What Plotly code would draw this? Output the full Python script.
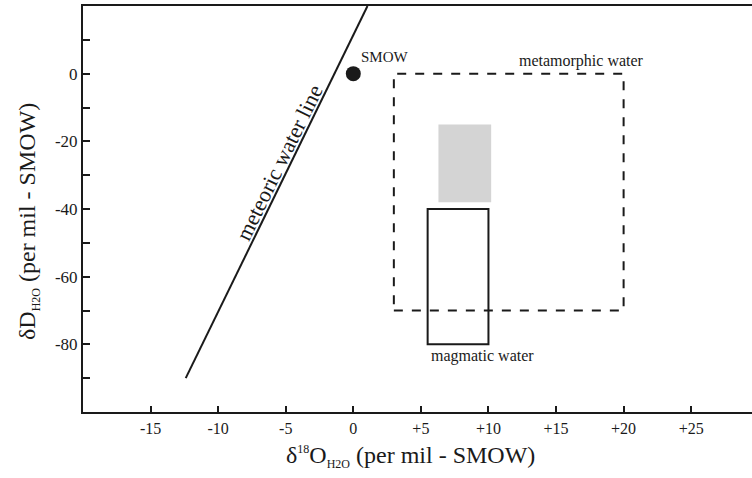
import plotly.graph_objects as go

# Data
x_tick_vals = [-15, -10, -5, 0, 5, 10, 15, 20, 25]
x_tick_text = ["-15", "-10", "-5", "0", "+5", "+10", "+15", "+20", "+25"]
y_tick_vals = [-90, -80, -70, -60, -50, -40, -30, -20, -10, 0, 10]
y_tick_text = ["", "-80", "", "-60", "", "-40", "", "-20", "", "0", ""]

meteoric_x = [-12.4, 1.05]
meteoric_y = [-90, 20]

smow_x = [0]
smow_y = [0]

metamorphic_box = dict(x0=3, x1=20, y0=-70, y1=0)
magmatic_box = dict(x0=5.5, x1=10, y0=-80, y1=-40)
gray_box = dict(x0=6.3, x1=10.2, y0=-38, y1=-15)

FONT = "Liberation Serif"
INK = "#1a1a1a"

fig = go.Figure()

fig.add_trace(go.Scatter(x=meteoric_x, y=meteoric_y, mode="lines",
                         line=dict(color=INK, width=2), hoverinfo="skip"))
fig.add_trace(go.Scatter(x=smow_x, y=smow_y, mode="markers",
                         marker=dict(color=INK, size=15), hoverinfo="skip"))

fig.add_shape(type="rect", **gray_box, fillcolor="#d4d4d4", line=dict(width=0), layer="below")
fig.add_shape(type="rect", **metamorphic_box, line=dict(color=INK, width=2, dash="dash"))
fig.add_shape(type="rect", **magmatic_box, line=dict(color=INK, width=2))

W, H = 752, 478
L, R, T, B = 83, 0, 6, 66
pw, ph = W - L - R, H - T - B

def px_x(p):
    return (p - L) / pw

def px_y(p):
    return 1 - (p - T) / ph

SUB = '<sub><span style="font-size:12px">H2O</span></sub>'
SUP = '<sup><span style="font-size:12px">18</span></sup>'

annotations = [
    dict(x=0.45, y=5, text="SMOW", xanchor="left", yanchor="middle", size=15),
    dict(x=16.85, y=3.6, text="metamorphic water", xanchor="center", yanchor="middle", size=16),
    dict(x=9.55, y=-83.3, text="magmatic water", xanchor="center", yanchor="middle", size=16),
    dict(x=-5.45, y=-26.4, text="meteoric water line", textangle=-64, xanchor="center",
         yanchor="middle", size=22),
    dict(x=px_x(410), y=px_y(457), xref="paper", yref="paper",
         text="δ" + SUP + "O" + SUB + " (per mil - SMOW)", xanchor="center",
         yanchor="middle", size=24),
    dict(x=px_x(28), y=px_y(222), xref="paper", yref="paper",
         text="δD" + SUB + " (per mil - SMOW)", textangle=-90, xanchor="center",
         yanchor="middle", size=24),
]
for a in annotations:
    a.setdefault("xref", "x")
    a.setdefault("yref", "y")
    a["showarrow"] = False
    a["font"] = dict(family=FONT, color=INK, size=a.pop("size"))

fig.update_layout(
    width=W, height=H,
    margin=dict(l=L, r=R, t=T, b=B),
    plot_bgcolor="white", paper_bgcolor="white",
    showlegend=False,
    font=dict(family=FONT, color=INK),
    annotations=annotations,
    xaxis=dict(range=[-20, 29.5], tickvals=x_tick_vals, ticktext=x_tick_text,
               ticks="inside", ticklen=6, tickwidth=2, tickcolor=INK,
               showline=True, linewidth=2, linecolor=INK, mirror=True,
               showgrid=False, zeroline=False, ticklabelstandoff=1,
               tickfont=dict(size=16, family=FONT)),
    yaxis=dict(range=[-100, 20], tickvals=y_tick_vals, ticktext=y_tick_text,
               ticks="inside", ticklen=7, tickwidth=2, tickcolor=INK,
               showline=True, linewidth=2, linecolor=INK, mirror=False,
               showgrid=False, zeroline=False, tickfont=dict(size=17, family=FONT)),
)

fig.write_html("out.html", config={"displayModeBar": False},
               post_script="document.body.style.margin='0';")
